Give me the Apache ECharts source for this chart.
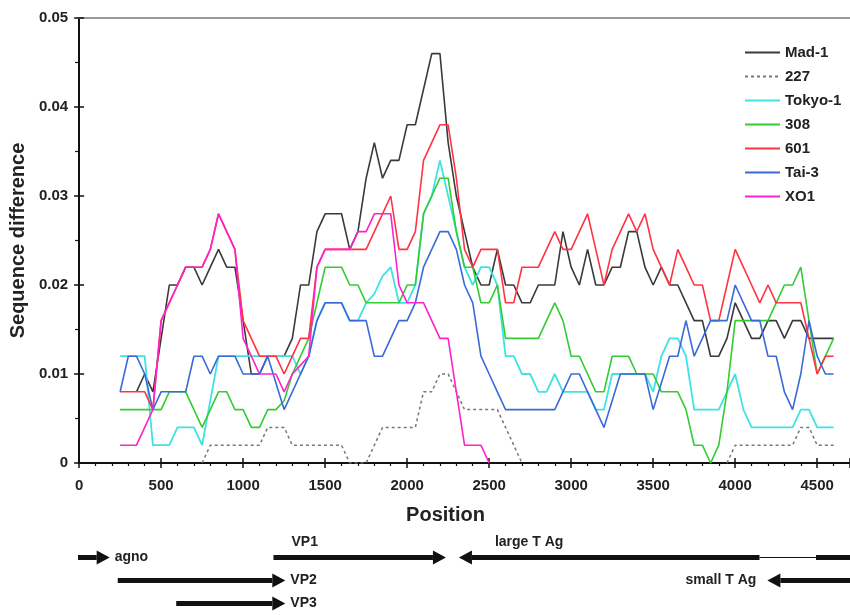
<!DOCTYPE html>
<html>
<head>
<meta charset="utf-8">
<title>Sequence difference</title>
<script src="https://cdn.jsdelivr.net/npm/echarts/dist/echarts.min.js"></script>
<style>
  html, body { margin: 0; padding: 0; background: #fff; }
  #chart { width: 850px; height: 615px; }
</style>
</head>
<body>
<div id="chart"></div>
<script>
// window positions (bp)
const positions = [
  250, 300, 350, 400, 450, 500, 550, 600, 650, 700,
  750, 800, 850, 900, 950, 1000, 1050, 1100, 1150, 1200,
  1250, 1300, 1350, 1400, 1450, 1500, 1550, 1600, 1650, 1700,
  1750, 1800, 1850, 1900, 1950, 2000, 2050, 2100, 2150, 2200,
  2250, 2300, 2350, 2400, 2450, 2500, 2550, 2600, 2650, 2700,
  2750, 2800, 2850, 2900, 2950, 3000, 3050, 3100, 3150, 3200,
  3250, 3300, 3350, 3400, 3450, 3500, 3550, 3600, 3650, 3700,
  3750, 3800, 3850, 3900, 3950, 4000, 4050, 4100, 4150, 4200,
  4250, 4300, 4350, 4400, 4450, 4500, 4550, 4600
]

const mad1 = [
  null, null, 0.008, 0.010, 0.008, 0.014, 0.020, 0.020, 0.022, 0.022,
  0.020, 0.022, 0.024, 0.022, 0.022, 0.016, 0.010, 0.010, 0.012, 0.012,
  0.012, 0.014, 0.020, 0.020, 0.026, 0.028, 0.028, 0.028, 0.024, 0.026,
  0.032, 0.036, 0.032, 0.034, 0.034, 0.038, 0.038, 0.042, 0.046, 0.046,
  0.036, 0.030, 0.026, 0.022, 0.020, 0.020, 0.024, 0.020, 0.020, 0.018,
  0.018, 0.020, 0.020, 0.020, 0.026, 0.022, 0.020, 0.024, 0.020, 0.020,
  0.022, 0.022, 0.026, 0.026, 0.022, 0.020, 0.022, 0.020, 0.020, 0.018,
  0.016, 0.016, 0.012, 0.012, 0.014, 0.018, 0.016, 0.014, 0.014, 0.016,
  0.016, 0.014, 0.016, 0.016, 0.014, 0.014, 0.014, 0.014
]

const s227 = [
  null, null, null, null, null, null, null, null, null, null,
  0, 0.002, 0.002, 0.002, 0.002, 0.002, 0.002, 0.002, 0.004, 0.004,
  0.004, 0.002, 0.002, 0.002, 0.002, 0.002, 0.002, 0.002, 0, 0,
  0, 0.002, 0.004, 0.004, 0.004, 0.004, 0.004, 0.008, 0.008, 0.010,
  0.010, 0.008, 0.006, 0.006, 0.006, 0.006, 0.006, 0.004, 0.002, 0,
  null, null, null, null, null, null, null, null, null, null,
  null, null, null, null, null, null, null, null, null, null,
  null, null, null, null, 0, 0.002, 0.002, 0.002, 0.002, 0.002,
  0.002, 0.002, 0.002, 0.004, 0.004, 0.002, 0.002, 0.002
]

const tokyo1 = [
  0.012, 0.012, 0.012, 0.012, 0.002, 0.002, 0.002, 0.004, 0.004, 0.004,
  0.002, 0.007, 0.012, 0.012, 0.012, 0.012, 0.012, 0.012, 0.012, 0.012,
  0.012, 0.012, 0.010, 0.012, 0.016, 0.018, 0.018, 0.018, 0.016, 0.016,
  0.018, 0.019, 0.021, 0.022, 0.018, 0.018, 0.020, 0.028, 0.030, 0.034,
  0.030, 0.026, 0.022, 0.020, 0.022, 0.022, 0.020, 0.012, 0.012, 0.010,
  0.010, 0.008, 0.008, 0.010, 0.008, 0.008, 0.008, 0.008, 0.006, 0.006,
  0.010, 0.010, 0.010, 0.010, 0.010, 0.008, 0.012, 0.014, 0.014, 0.012,
  0.006, 0.006, 0.006, 0.006, 0.008, 0.010, 0.006, 0.004, 0.004, 0.004,
  0.004, 0.004, 0.004, 0.006, 0.006, 0.004, 0.004, 0.004
]

const s308 = [
  0.006, 0.006, 0.006, 0.006, 0.006, 0.006, 0.008, 0.008, 0.008, 0.006,
  0.004, 0.006, 0.008, 0.008, 0.006, 0.006, 0.004, 0.004, 0.006, 0.006,
  0.007, 0.010, 0.012, 0.014, 0.018, 0.022, 0.022, 0.022, 0.020, 0.020,
  0.018, 0.018, 0.018, 0.018, 0.018, 0.020, 0.020, 0.028, 0.030, 0.032,
  0.032, 0.026, 0.022, 0.022, 0.018, 0.018, 0.020, 0.014, 0.014, 0.014,
  0.014, 0.014, 0.016, 0.018, 0.016, 0.012, 0.012, 0.010, 0.008, 0.008,
  0.012, 0.012, 0.012, 0.010, 0.010, 0.010, 0.008, 0.008, 0.008, 0.006,
  0.002, 0.002, 0, 0.002, 0.008, 0.016, 0.016, 0.016, 0.016, 0.016,
  0.018, 0.020, 0.020, 0.022, 0.016, 0.010, 0.012, 0.014
]

const s601 = [
  0.008, 0.008, 0.008, 0.008, 0.006, 0.016, 0.018, 0.020, 0.022, 0.022,
  0.022, 0.024, 0.028, 0.026, 0.024, 0.016, 0.014, 0.012, 0.012, 0.012,
  0.010, 0.012, 0.014, 0.014, 0.022, 0.024, 0.024, 0.024, 0.024, 0.024,
  0.024, 0.026, 0.028, 0.030, 0.024, 0.024, 0.026, 0.034, 0.036, 0.038,
  0.038, 0.032, 0.024, 0.022, 0.024, 0.024, 0.024, 0.018, 0.018, 0.022,
  0.022, 0.022, 0.024, 0.026, 0.024, 0.024, 0.026, 0.028, 0.024, 0.020,
  0.024, 0.026, 0.028, 0.026, 0.028, 0.024, 0.022, 0.020, 0.024, 0.022,
  0.020, 0.020, 0.016, 0.016, 0.020, 0.024, 0.022, 0.020, 0.018, 0.020,
  0.018, 0.018, 0.018, 0.018, 0.014, 0.010, 0.012, 0.012
]

const tai3 = [
  0.008, 0.012, 0.012, 0.010, 0.006, 0.008, 0.008, 0.008, 0.008, 0.012,
  0.012, 0.010, 0.012, 0.012, 0.012, 0.010, 0.010, 0.010, 0.012, 0.009,
  0.006, 0.008, 0.010, 0.012, 0.016, 0.018, 0.018, 0.018, 0.016, 0.016,
  0.016, 0.012, 0.012, 0.014, 0.016, 0.016, 0.018, 0.022, 0.024, 0.026,
  0.026, 0.024, 0.020, 0.018, 0.012, 0.010, 0.008, 0.006, 0.006, 0.006,
  0.006, 0.006, 0.006, 0.006, 0.008, 0.010, 0.010, 0.008, 0.006, 0.004,
  0.007, 0.010, 0.010, 0.010, 0.010, 0.006, 0.009, 0.012, 0.012, 0.016,
  0.012, 0.014, 0.016, 0.016, 0.016, 0.020, 0.018, 0.016, 0.016, 0.012,
  0.012, 0.008, 0.006, 0.010, 0.016, 0.012, 0.010, 0.010
]

const xo1 = [
  0.002, 0.002, 0.002, 0.004, 0.006, 0.016, 0.018, 0.020, 0.022, 0.022,
  0.022, 0.024, 0.028, 0.026, 0.024, 0.014, 0.012, 0.010, 0.010, 0.010,
  0.008, 0.010, 0.011, 0.012, 0.022, 0.024, 0.024, 0.024, 0.024, 0.026,
  0.026, 0.028, 0.028, 0.028, 0.020, 0.018, 0.018, 0.018, 0.016, 0.014,
  0.014, 0.008, 0.002, 0.002, 0.002, 0, null, null, null, null,
  null, null, null, null, null, null, null, null, null, null,
  null, null, null, null, null, null, null, null, null, null,
  null, null, null, null, null, null, null, null, null, null,
  null, null, null, null, null, null, null, null
]

// gene map below the plot (bp); arrow points from -> to
const geneNames = ['agno', 'VP2', 'VP3', 'VP1', 'large T Ag', 'small T Ag']
const geneFrom = [0, 242, 598, 1190, 4700, 4700]
const geneTo = [193, 1262, 1262, 2240, 2319, 4197]
const geneRow = [0, 1, 2, 0, 0, 1]
const geneIntron = [null, null, null, null, [4149, 4493], null]

const FONT = 'Liberation Sans, Arial, sans-serif'
const XMAX = 4700

// label placement for the gene arrows
const labelSide = { 'agno': 'right', 'VP2': 'right', 'VP3': 'right', 'VP1': 'above', 'large T Ag': 'above', 'small T Ag': 'left' }
const labelDx = { 'VP1': 18, 'large T Ag': 36 }

function toPairs(values) {
  return positions.map((p, i) => [p, values[i] === null ? '-' : values[i]])
}

function lineSeries(name, values, color, width, type) {
  return {
    name: name,
    type: 'line',
    xAxisIndex: 0,
    yAxisIndex: 0,
    symbol: 'none',
    connectNulls: false,
    lineStyle: { color: color, width: width, type: type || 'solid' },
    itemStyle: { color: color },
    data: toPairs(values)
  }
}

function renderGene(params, api) {
  const i = params.dataIndex
  const name = geneNames[i]
  const a = api.coord([api.value(0), api.value(2) + 0.5])
  const b = api.coord([api.value(1), api.value(2) + 0.5])
  const y = a[1]
  const dir = b[0] > a[0] ? 1 : -1
  const headLen = 13, half = 7, thick = 5
  const neck = b[0] - dir * headLen
  const lo = Math.min(a[0], neck), hi = Math.max(a[0], neck)
  const children = []
  const shaft = []
  const intron = geneIntron[i]
  if (intron) {
    const p1 = api.coord([intron[0], 0])[0]
    const p2 = api.coord([intron[1], 0])[0]
    const g1 = Math.min(p1, p2), g2 = Math.max(p1, p2)
    shaft.push([lo, g1], [g2, hi])
    children.push({ type: 'line', shape: { x1: g1, y1: y, x2: g2, y2: y }, style: { stroke: '#111', lineWidth: 1.2 } })
  } else {
    shaft.push([lo, hi])
  }
  shaft.forEach(s => {
    children.push({ type: 'line', shape: { x1: s[0], y1: y, x2: s[1], y2: y }, style: { stroke: '#111', lineWidth: thick } })
  })
  children.push({
    type: 'polygon',
    shape: { points: [[b[0], y], [neck, y - half], [neck, y + half]] },
    style: { fill: '#111' }
  })
  const side = labelSide[name]
  let tx, ty, align
  if (side === 'right') { tx = b[0] + 5; ty = y; align = 'left' }
  else if (side === 'left') { tx = b[0] - 11; ty = y; align = 'right' }
  else { tx = Math.min(a[0], b[0]) + (labelDx[name] || 0); ty = y - 15; align = 'left' }
  children.push({
    type: 'text',
    x: tx, y: ty,
    style: { text: name, fill: '#222', font: 'bold 14px ' + FONT, textAlign: align, textVerticalAlign: 'middle' }
  })
  return { type: 'group', children: children }
}

const chart = echarts.init(document.getElementById('chart'))

chart.setOption({
  animation: false,
  backgroundColor: '#fff',
  textStyle: { fontFamily: FONT },
  legend: {
    orient: 'vertical',
    left: 739,
    top: 40,
    itemWidth: 35,
    itemHeight: 14,
    itemGap: 9,
    itemStyle: { opacity: 0 },
    data: ['Mad-1', '227', 'Tokyo-1', '308', '601', 'Tai-3', 'XO1'],
    textStyle: { fontSize: 15, fontWeight: 'bold', color: '#222', fontFamily: FONT }
  },
  grid: [
    { left: 78, right: -6, top: 18, bottom: 152 },
    { left: 78, right: -6, top: 546, height: 72 }
  ],
  xAxis: [
    {
      gridIndex: 0,
      type: 'value',
      min: 0,
      max: XMAX,
      interval: 500,
      position: 'bottom',
      name: 'Position',
      nameLocation: 'middle',
      nameGap: 42,
      nameTextStyle: { fontSize: 20, fontWeight: 'bold', color: '#222', fontFamily: FONT, padding: [0, 38, 0, 0] },
      axisLine: { lineStyle: { color: '#111', width: 2 } },
      axisTick: { length: 5, lineStyle: { color: '#111', width: 1.5 } },
      minorTick: { show: true, splitNumber: 5, length: 3, lineStyle: { color: '#111', width: 1.2 } },
      axisLabel: {
        fontSize: 15, fontWeight: 'bold', color: '#222', margin: 15, showMaxLabel: false, fontFamily: FONT,
        formatter: v => String(v)
      },
      splitLine: { show: false }
    },
    {
      gridIndex: 0,
      type: 'value',
      min: 0,
      max: XMAX,
      interval: 500,
      position: 'bottom',
      axisLine: { show: false },
      axisTick: { inside: true, length: 5, lineStyle: { color: '#111', width: 1.5 } },
      axisLabel: { show: false },
      splitLine: { show: false }
    },
    {
      gridIndex: 0,
      type: 'value',
      min: 0,
      max: XMAX,
      position: 'top',
      axisLine: { lineStyle: { color: '#999', width: 2 } },
      axisTick: { show: false },
      axisLabel: { show: false },
      splitLine: { show: false }
    },
    {
      gridIndex: 1,
      type: 'value',
      min: 0,
      max: XMAX,
      show: false
    }
  ],
  yAxis: [
    {
      gridIndex: 0,
      type: 'value',
      min: 0,
      max: 0.05,
      interval: 0.01,
      position: 'left',
      name: 'Sequence difference',
      nameLocation: 'middle',
      nameGap: 49,
      nameTextStyle: { fontSize: 20, fontWeight: 'bold', color: '#222', fontFamily: FONT },
      axisLine: { show: true, lineStyle: { color: '#111', width: 2 } },
      axisTick: { show: true, length: 5, lineStyle: { color: '#111', width: 1.5 } },
      minorTick: { show: true, splitNumber: 2, length: 4, lineStyle: { color: '#111', width: 1.2 } },
      axisLabel: { fontSize: 15, fontWeight: 'bold', color: '#222', margin: 11, fontFamily: FONT },
      splitLine: { show: false }
    },
    {
      gridIndex: 0,
      type: 'value',
      min: 0,
      max: 0.05,
      interval: 0.01,
      position: 'left',
      axisLine: { show: false },
      axisTick: { show: true, inside: true, length: 5, lineStyle: { color: '#111', width: 1.5 } },
      axisLabel: { show: false },
      splitLine: { show: false }
    },
    {
      gridIndex: 1,
      type: 'value',
      min: 0,
      max: 3,
      inverse: true,
      show: false
    }
  ],
  series: [
    lineSeries('Mad-1', mad1, '#3a3a3a', 1.6),
    lineSeries('227', s227, '#777777', 1.5, [3, 3]),
    lineSeries('Tokyo-1', tokyo1, '#3fe3e3', 1.8),
    lineSeries('308', s308, '#33cc33', 1.6),
    lineSeries('601', s601, '#ff3344', 1.6),
    lineSeries('Tai-3', tai3, '#3a6ad8', 1.6),
    lineSeries('XO1', xo1, '#ff22cc', 1.6),
    {
      type: 'custom',
      xAxisIndex: 3,
      yAxisIndex: 2,
      clip: false,
      silent: true,
      renderItem: renderGene,
      data: geneNames.map((n, i) => [geneFrom[i], geneTo[i], geneRow[i]])
    }
  ]
})
</script>
</body>
</html>
